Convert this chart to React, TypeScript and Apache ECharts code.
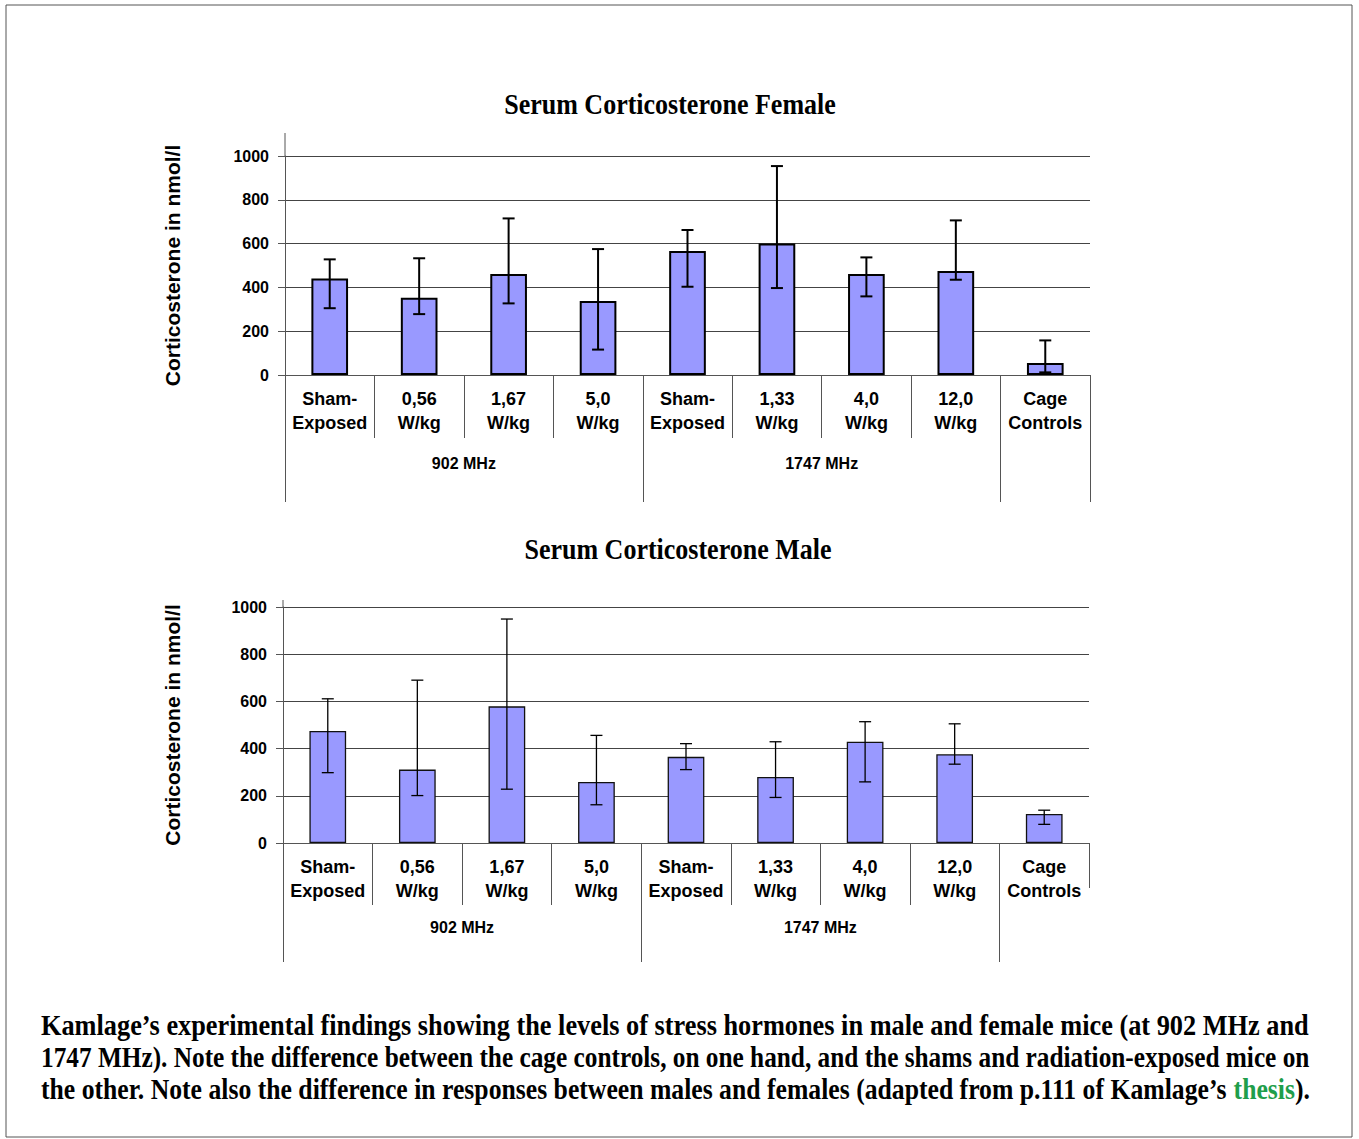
import React, { useEffect, useRef } from "react";
import * as echarts from "echarts";

const categories = [
  "Sham-\nExposed",
  "0,56\nW/kg",
  "1,67\nW/kg",
  "5,0\nW/kg",
  "Sham-\nExposed",
  "1,33\nW/kg",
  "4,0\nW/kg",
  "12,0\nW/kg",
  "Cage\nControls",
];
const groupLabels = ["902 MHz", "1747 MHz"];
const groupCenters = [2, 6];
const groupBounds = [0, 4, 8];
const innerBounds = [1, 2, 3, 5, 6, 7];
const endBound = [9];

const femaleMean = [441, 353, 461, 338, 566, 600, 461, 475, 55];
const femaleLow = [305, 278, 327, 116, 403, 397, 359, 435, 12];
const femaleHigh = [528, 533, 715, 575, 662, 954, 537, 706, 158];

const maleMean = [475, 311, 579, 259, 365, 280, 429, 376, 123];
const maleLow = [298, 201, 228, 162, 311, 193, 259, 334, 79];
const maleHigh = [611, 690, 949, 456, 421, 429, 514, 505, 139];

const yMin = 0;
const yMax = 1000;
const yStep = 200;

const titleFemale = "Serum Corticosterone Female";
const titleMale = "Serum Corticosterone Male";
const yName = "Corticosterone in nmol/l";

const captionLine1 =
  "Kamlage’s experimental findings showing the levels of stress hormones in male and female mice (at 902 MHz and";
const captionLine2 =
  "1747 MHz). Note the difference between the cage controls, on one hand, and the shams and radiation-exposed mice on";
const captionLine3a =
  "the other. Note also the difference in responses between males and females (adapted from p.111 of Kamlage’s ";
const captionLine3b = "thesis";
const captionLine3c = ").";

const SANS = 'Arial, "Liberation Sans", sans-serif';
const SERIF = '"Liberation Serif", "Times New Roman", serif';

function measure(text: string, font: string): number {
  const c = document.createElement("canvas");
  const ctx = c.getContext("2d");
  if (!ctx) return text.length * 11;
  ctx.font = font;
  return ctx.measureText(text).width;
}

function errRender(lw: number) {
  return (params: any, api: any) => {
    const i = api.value(0);
    const lo = api.coord([i, api.value(1)]);
    const hi = api.coord([i, api.value(2)]);
    const cap = 6;
    const style = { stroke: "#000", lineWidth: lw };
    return {
      type: "group",
      children: [
        { type: "line", shape: { x1: hi[0], y1: hi[1], x2: lo[0], y2: lo[1] }, style },
        { type: "line", shape: { x1: hi[0] - cap, y1: hi[1], x2: hi[0] + cap, y2: hi[1] }, style },
        { type: "line", shape: { x1: lo[0] - cap, y1: lo[1], x2: lo[0] + cap, y2: lo[1] }, style },
      ],
    };
  };
}

function catAxis(gridIndex: number, tickLen: number, showTicks: boolean) {
  return {
    type: "category",
    gridIndex,
    data: categories,
    position: "bottom",
    axisLine: { show: true, lineStyle: { color: "#555", width: 1 } },
    axisTick: { show: showTicks, interval: 0, length: tickLen, lineStyle: { color: "#555", width: 1 } },
    axisLabel: {
      interval: 0,
      margin: 12,
      color: "#000",
      fontFamily: SANS,
      fontWeight: "bold",
      fontSize: 18,
      lineHeight: 24,
    },
    splitLine: { show: false },
  };
}

function tickAxis(gridIndex: number, tickVals: number[], tickLen: number, labelMargin: number, withLabels: boolean) {
  return {
    type: "value",
    gridIndex,
    position: "bottom",
    min: 0,
    max: categories.length,
    axisLine: { show: false },
    axisTick: {
      show: true,
      customValues: tickVals,
      length: tickLen,
      lineStyle: { color: "#555", width: 1 },
    },
    axisLabel: {
      show: withLabels,
      customValues: groupCenters,
      margin: labelMargin,
      color: "#000",
      fontFamily: SANS,
      fontWeight: "bold",
      fontSize: 16,
      formatter: (v: number) => {
        const k = groupCenters.indexOf(v);
        return k >= 0 ? groupLabels[k] : "";
      },
    },
    splitLine: { show: false },
  };
}

function valAxis(gridIndex: number, gap: number) {
  return {
    type: "value",
    gridIndex,
    min: yMin,
    max: yMax,
    interval: yStep,
    name: yName,
    nameLocation: "middle",
    nameRotate: 90,
    nameGap: gap,
    nameTextStyle: { color: "#000", fontFamily: SANS, fontWeight: "bold", fontSize: 21 },
    axisLine: { show: true, lineStyle: { color: "#555", width: 1 } },
    axisTick: { show: true, length: 7, lineStyle: { color: "#555", width: 1 } },
    axisLabel: {
      margin: 16,
      color: "#000",
      fontFamily: SANS,
      fontWeight: "bold",
      fontSize: 16,
      formatter: (v: number) => String(v),
    },
    splitLine: { show: true, lineStyle: { color: "#444", width: 1.2 } },
  };
}

export default function App() {
  const ref = useRef<HTMLDivElement>(null);

  useEffect(() => {
    if (!ref.current) return;
    const chart = echarts.init(ref.current, null, { renderer: "svg" });

    const capFontSize = 25;
    const capFont = `bold ${capFontSize}px "Liberation Serif"`;
    const capWidth = 1269;
    const capLeft = 41;
    const w1 = measure(captionLine1, capFont);
    const w2 = measure(captionLine2, capFont);
    const w3a = measure(captionLine3a, capFont);
    const w3b = measure(captionLine3b, capFont);
    const w3c = measure(captionLine3c, capFont);
    const capScaleY = 1.18;
    const capStyle = {
      fontFamily: SERIF,
      fontWeight: "bold",
      fontSize: capFontSize,
      fill: "#000",
      textVerticalAlign: "middle",
      verticalAlign: "middle",
      align: "left",
    };

    const titleStyle = {
      fontFamily: SERIF,
      fontWeight: "bold",
      fontSize: 26,
      fill: "#000",
      align: "center",
      verticalAlign: "middle",
    };

    const femaleErr = categories.map((_, i) => [i, femaleLow[i], femaleHigh[i]]);
    const maleErr = categories.map((_, i) => [i, maleLow[i], maleHigh[i]]);

    chart.setOption({
      animation: false,
      backgroundColor: "#fff",
      grid: [
        { left: 285, right: 269, top: 156, height: 219, containLabel: false },
        { left: 283, right: 270, top: 607, height: 236, containLabel: false },
      ],
      xAxis: [
        catAxis(0, 63, true),
        tickAxis(0, [0, 4, 8, 9], 127, 80, true),
        catAxis(1, 62, false),
        tickAxis(1, groupBounds, 119, 76, true),
        tickAxis(1, innerBounds, 62, 0, false),
        tickAxis(1, endBound, 45, 0, false),
      ],
      yAxis: [valAxis(0, 102), valAxis(1, 100)],
      series: [
        {
          type: "bar",
          xAxisIndex: 0,
          yAxisIndex: 0,
          data: femaleMean,
          barWidth: "41%",
          itemStyle: { color: "#9999ff", borderColor: "#000", borderWidth: 2 },
          z: 2,
        },
        {
          type: "custom",
          xAxisIndex: 0,
          yAxisIndex: 0,
          data: femaleErr,
          renderItem: errRender(2),
          z: 3,
        },
        {
          type: "bar",
          xAxisIndex: 2,
          yAxisIndex: 1,
          data: maleMean,
          barWidth: "41%",
          itemStyle: { color: "#9999ff", borderColor: "#111", borderWidth: 1.3 },
          z: 2,
        },
        {
          type: "custom",
          xAxisIndex: 2,
          yAxisIndex: 1,
          data: maleErr,
          renderItem: errRender(1.3),
          z: 3,
        },
      ],
      graphic: [
        {
          type: "rect",
          shape: { x: 6, y: 5, width: 1346, height: 1132 },
          style: { fill: "none", stroke: "#555", lineWidth: 1 },
          z: 0,
        },
        {
          type: "line",
          shape: { x1: 285, y1: 133, x2: 285, y2: 156 },
          style: { stroke: "#555", lineWidth: 1 },
        },
        {
          type: "line",
          shape: { x1: 283, y1: 600, x2: 283, y2: 607 },
          style: { stroke: "#555", lineWidth: 1 },
        },
        {
          type: "text",
          x: 670,
          y: 105,
          scaleY: 1.1,
          style: { ...titleStyle, text: titleFemale },
        },
        {
          type: "text",
          x: 678,
          y: 550,
          scaleY: 1.1,
          style: { ...titleStyle, text: titleMale },
        },
        {
          type: "text",
          x: capLeft,
          y: 1025,
          scaleX: capWidth / w1,
          scaleY: capScaleY,
          style: { ...capStyle, text: captionLine1 },
        },
        {
          type: "text",
          x: capLeft,
          y: 1057,
          scaleX: capWidth / w2,
          scaleY: capScaleY,
          style: { ...capStyle, text: captionLine2 },
        },
        {
          type: "group",
          x: capLeft,
          y: 1089,
          scaleX: capWidth / (w3a + w3b + w3c),
          scaleY: capScaleY,
          children: [
            { type: "text", x: 0, y: 0, style: { ...capStyle, text: captionLine3a } },
            { type: "text", x: w3a, y: 0, style: { ...capStyle, text: captionLine3b, fill: "#1f9e4b" } },
            { type: "text", x: w3a + w3b, y: 0, style: { ...capStyle, text: captionLine3c } },
          ],
        },
      ],
    });

    return () => chart.dispose();
  }, []);

  return (
    <div
      ref={ref}
      style={{ position: "absolute", left: 0, top: 0, width: 1359, height: 1139, background: "#fff" }}
    />
  );
}
